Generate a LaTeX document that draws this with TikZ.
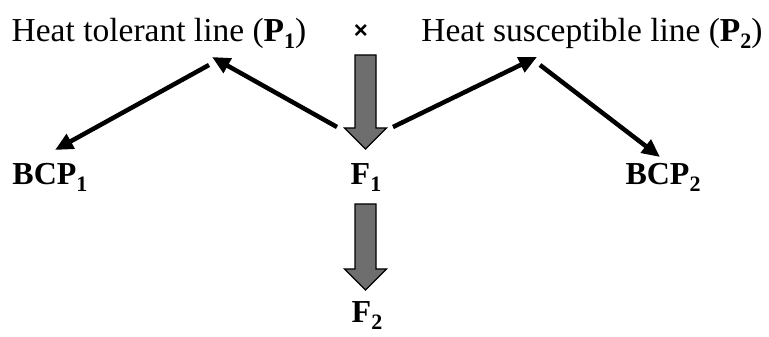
\documentclass[tikz,border=0pt]{standalone}
\usepackage{fontspec}
\setmainfont{Liberation Serif}
\newfontfamily\crossfont{Liberation Sans}
\usetikzlibrary{arrows.meta,calc}
\definecolor{arrowgray}{HTML}{6E6E6E}
\newcommand\lowidx[1]{\raisebox{-0.2em}{\fontsize{22}{22}\selectfont #1}}
\newcommand\grayarrow[2]{%
  \draw[fatarrow] let \p1=(#1), \p2=(#2) in
    (\x1-10.5pt,\y1) -- (\x1+10.5pt,\y1) -- (\x1+10.5pt,\y2+21pt) -- (\x1+21pt,\y2+21pt)
    -- (\x1,\y2) -- (\x1-21pt,\y2+21pt) -- (\x1-10.5pt,\y2+21pt) -- cycle;}
\begin{document}
\begin{tikzpicture}[x=1pt, y=1pt,
    lbl/.style={font=\fontsize{33.5}{33.5}\selectfont, inner sep=0pt, anchor=base},
    boldlbl/.style={lbl, font=\fontsize{32}{32}\selectfont\bfseries},
    arr/.style={-{Triangle[length=18pt,width=16pt]}, line width=4.5pt},
    fatarrow/.style={draw=black, fill=arrowgray, line width=1.2pt, line join=miter}
  ]
    \useasboundingbox (0,0) rectangle (769,337);

    % parents
    \node[lbl] (p1) at (159,295) {Heat tolerant line (\textbf{P\lowidx{1}})};
    \node[inner sep=0pt, font=\crossfont\bfseries\fontsize{24}{24}\selectfont] (cross) at (361,305) {×};
    \node[lbl] (p2) at (592,295) {Heat susceptible line (\textbf{P\lowidx{2}})};

    % progeny
    \node[boldlbl] (bcp1) at (50,152) {BCP\lowidx{1}};
    \node[boldlbl] (f1) at (366,152) {F\lowidx{1}};
    \node[boldlbl] (bcp2) at (663,152) {BCP\lowidx{2}};
    \node[boldlbl] (f2) at (367,14) {F\lowidx{2}};

    % arrow ends
    \coordinate (f1l) at (337,210);
    \coordinate (f1r) at (393,210);
    \coordinate (p1in) at (212,280);
    \coordinate (p1out) at (209,272);
    \coordinate (p2in) at (537,280);
    \coordinate (p2out) at (540,272);
    \coordinate (bcp1in) at (55,187);
    \coordinate (bcp2in) at (660,180);
    \coordinate (crossbot) at (365.5,282);
    \coordinate (f1top) at (365.5,188);
    \coordinate (f1bot) at (365.5,133);
    \coordinate (f2top) at (365.5,47);

    % crosses
    \grayarrow{crossbot}{f1top}
    \grayarrow{f1bot}{f2top}

    % backcrosses
    \draw[arr] (f1l) -- (p1in);
    \draw[arr] (p1out) -- (bcp1in);
    \draw[arr] (f1r) -- (p2in);
    \draw[arr] (p2out) -- (bcp2in);
  \end{tikzpicture}
\end{document}
